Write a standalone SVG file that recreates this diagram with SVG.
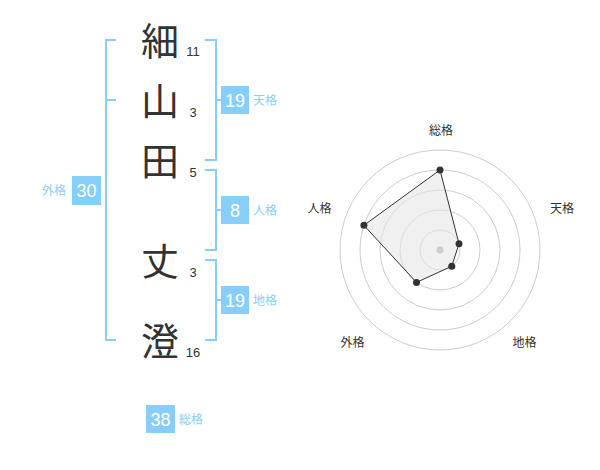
<svg xmlns="http://www.w3.org/2000/svg" width="600" height="470" viewBox="0 0 600 470">
<style>
.k{font-family:"Noto Sans CJK JP","Noto Sans CJK SC",sans-serif;font-size:38px;fill:#333;text-anchor:middle}
.n{font-family:"Liberation Sans",Arial,sans-serif;font-size:13px;fill:#333;text-anchor:middle}
.br{fill:none;stroke:#87cefa;stroke-width:2}
.box{fill:#87cefa}
.bn{font-family:"Liberation Sans",Arial,sans-serif;font-size:18px;fill:#fff;text-anchor:middle}
.lb{font-family:"Noto Sans CJK JP","Noto Sans CJK SC",sans-serif;font-size:12px;fill:#87cefa}
.ring{fill:none;stroke:#ccc;stroke-width:1}
.rl{font-family:"Noto Sans CJK JP","Noto Sans CJK SC",sans-serif;font-size:12px;fill:#333;text-anchor:middle}
.dot{fill:#333}
</style>
<rect width="600" height="470" fill="#fff"/>
<g id="chars">
<g id="c1"><text class="k" x="160" y="54.5">細</text><text class="n" x="193" y="56">11</text></g>
<g id="c2"><text class="k" x="160" y="114.5">山</text><text class="n" x="193" y="117">3</text></g>
<g id="c3"><text class="k" x="160" y="174.5">田</text><text class="n" x="193" y="177">5</text></g>
<g id="c4"><text class="k" x="160" y="274.5">丈</text><text class="n" x="193" y="277">3</text></g>
<g id="c5"><text class="k" x="160" y="354.5">澄</text><text class="n" x="193" y="357">16</text></g>
</g>
<g id="connectors">
<path class="br" d="M116,40 H106 V340 H116 M106,100 H116"/>
<path class="br" d="M205,40 H216 V160 H205 M216,100 H221"/>
<path class="br" d="M205,170 H216 V250 H205 M216,210 H221"/>
<path class="br" d="M205,260 H216 V340 H205 M216,300 H221"/>
</g>
<g id="gaikaku"><rect class="box" x="72" y="176" width="29" height="29"/><text class="bn" x="86.5" y="197">30</text><text class="lb" x="66" y="195" text-anchor="end">外格</text></g>
<g id="tenkaku"><rect class="box" x="221" y="86" width="28" height="28"/><text class="bn" x="235" y="106.5">19</text><text class="lb" x="253" y="105">天格</text></g>
<g id="jinkaku"><rect class="box" x="221" y="196" width="28" height="28"/><text class="bn" x="235" y="216.5">8</text><text class="lb" x="253" y="215">人格</text></g>
<g id="chikaku"><rect class="box" x="221" y="286" width="28" height="28"/><text class="bn" x="235" y="306.5">19</text><text class="lb" x="253" y="305">地格</text></g>
<g id="soukaku"><rect class="box" x="146" y="405" width="29" height="28"/><text class="bn" x="160.5" y="425.5">38</text><text class="lb" x="179" y="424">総格</text></g>
<g id="radar">
<circle class="ring" cx="440" cy="250" r="20"/>
<circle class="ring" cx="440" cy="250" r="40"/>
<circle class="ring" cx="440" cy="250" r="60"/>
<circle class="ring" cx="440" cy="250" r="80"/>
<circle class="ring" cx="440" cy="250" r="100"/>
<polygon points="440,170 459,243.8 451.8,266.2 416.5,282.4 363.9,225.3" fill="#e6e6e6" fill-opacity="0.6" stroke="#333" stroke-width="1"/>
<circle cx="440" cy="250" r="3.5" fill="#ccc"/>
<circle class="dot" cx="440" cy="170" r="3.5"/>
<circle class="dot" cx="459" cy="243.8" r="3.5"/>
<circle class="dot" cx="451.8" cy="266.2" r="3.5"/>
<circle class="dot" cx="416.5" cy="282.4" r="3.5"/>
<circle class="dot" cx="363.9" cy="225.3" r="3.5"/>
<text class="rl" x="441" y="135">総格</text>
<text class="rl" x="562" y="213">天格</text>
<text class="rl" x="524.5" y="347">地格</text>
<text class="rl" x="352.5" y="347">外格</text>
<text class="rl" x="319.5" y="213">人格</text>
</g>
</svg>
